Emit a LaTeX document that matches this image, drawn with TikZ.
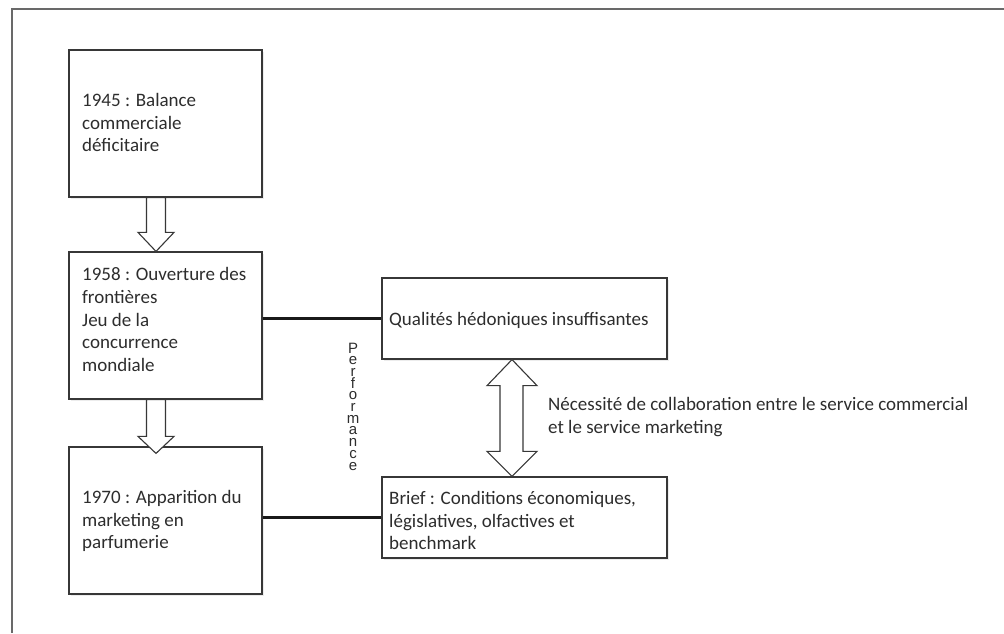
\documentclass[tikz,border=0pt]{standalone}
\usepackage{fontspec}
\setmainfont{Carlito}
\newfontfamily\perffamily{Liberation Sans}
\usetikzlibrary{calc,shadows}
\definecolor{txt}{RGB}{45,45,45}
\definecolor{edge}{RGB}{55,55,55}
\definecolor{framec}{RGB}{105,105,105}
\newcommand{\perffont}{\perffamily\fontsize{15}{11.7}\selectfont\lineskiplimit=-20pt\relax}
\begin{document}
\begin{tikzpicture}[x=1pt,y=-1pt,
  box/.style={draw=edge, line width=1.2pt, fill=white, rectangle, inner sep=0,
    drop shadow={shadow xshift=1.5pt,shadow yshift=-1.5pt,fill=black!15}},
  txtnode/.style={inner sep=0, align=left, text=txt, font=\fontsize{19}{22.6}\selectfont, anchor=west},
  blockarrow/.style={draw=edge, line width=1.1pt, fill=white, line join=miter},
  link/.style={draw=black!90, line width=2.2pt}]
\useasboundingbox (0,0) rectangle (1004,633);
% frame
\draw[framec, line width=1.5pt] (12,633) -- (12,9) -- (1004,9);
% boxes
\node[box, minimum width=193, minimum height=147] (b1) at (165.5,123.5) {};
\node[box, minimum width=193, minimum height=147] (b2) at (165.5,325.5) {};
\node[box, minimum width=193, minimum height=147] (b3) at (165.5,520.5) {};
\node[box, minimum width=285, minimum height=81] (q) at (524.5,318.5) {};
\node[box, minimum width=285, minimum height=81] (br) at (524.5,517.5) {};
% texts
\node[txtnode] (t1) at (82,122.5) {1945 : Balance\\commerciale\\déficitaire};
\node[txtnode] (t2) at (82,319.5) {1958 : Ouverture des\\frontières\\Jeu de la\\concurrence\\mondiale};
\node[txtnode] (t3) at (82,521) {1970 : Apparition du\\marketing en\\parfumerie};
\node[txtnode] (tq) at (389,320.5) {Qualités hédoniques insuffisantes};
\node[txtnode] (tb) at (389,520.5) {Brief : Conditions économiques,\\législatives, olfactives et\\benchmark};
\node[txtnode] (tn) at (548,417) {Nécessité de collaboration entre le service commercial\\et le service marketing};
\node[inner sep=0, align=center, text=txt, font=\perffont] (perf) at (353,406.5)
  {P\\e\\r\\f\\o\\r\\m\\a\\n\\c\\e};
% links
\draw[link] (q.west -| b2.east) -- (q.west);
\draw[link] (br.west -| b3.east) -- (br.west);
% block arrows
\draw[blockarrow] ($(b1.south)+(-19,0)$) -- ($(b1.south)+(0,0)$) -- ($(b2.north)+(0,-19)$)
  -- ($(b2.north)+(8.5,-19)$) -- ($(b2.north)+(-9.5,0)$) -- ($(b2.north)+(-27.5,-19)$)
  -- ($(b2.north)+(-19,-19)$) -- cycle;
\draw[blockarrow] ($(b2.south)+(-19,0)$) -- ($(b2.south)+(0,0)$) -- ($(b3.north)+(0,-10)$)
  -- ($(b3.north)+(8.5,-10)$) -- ($(b3.north)+(-9.5,7)$) -- ($(b3.north)+(-27.5,-10)$)
  -- ($(b3.north)+(-19,-10)$) -- cycle;
\draw[blockarrow] ($(q.south)+(-12.5,0)$) -- ($(q.south)+(12.5,26)$) -- ($(q.south)+(-1.5,26)$)
  -- ($(br.north)+(-1.5,-25)$) -- ($(br.north)+(12.5,-25)$) -- ($(br.north)+(-12.5,0)$)
  -- ($(br.north)+(-37.5,-25)$) -- ($(br.north)+(-24.5,-25)$) -- ($(q.south)+(-24.5,26)$)
  -- ($(q.south)+(-37.5,26)$) -- cycle;
\end{tikzpicture}
\end{document}
